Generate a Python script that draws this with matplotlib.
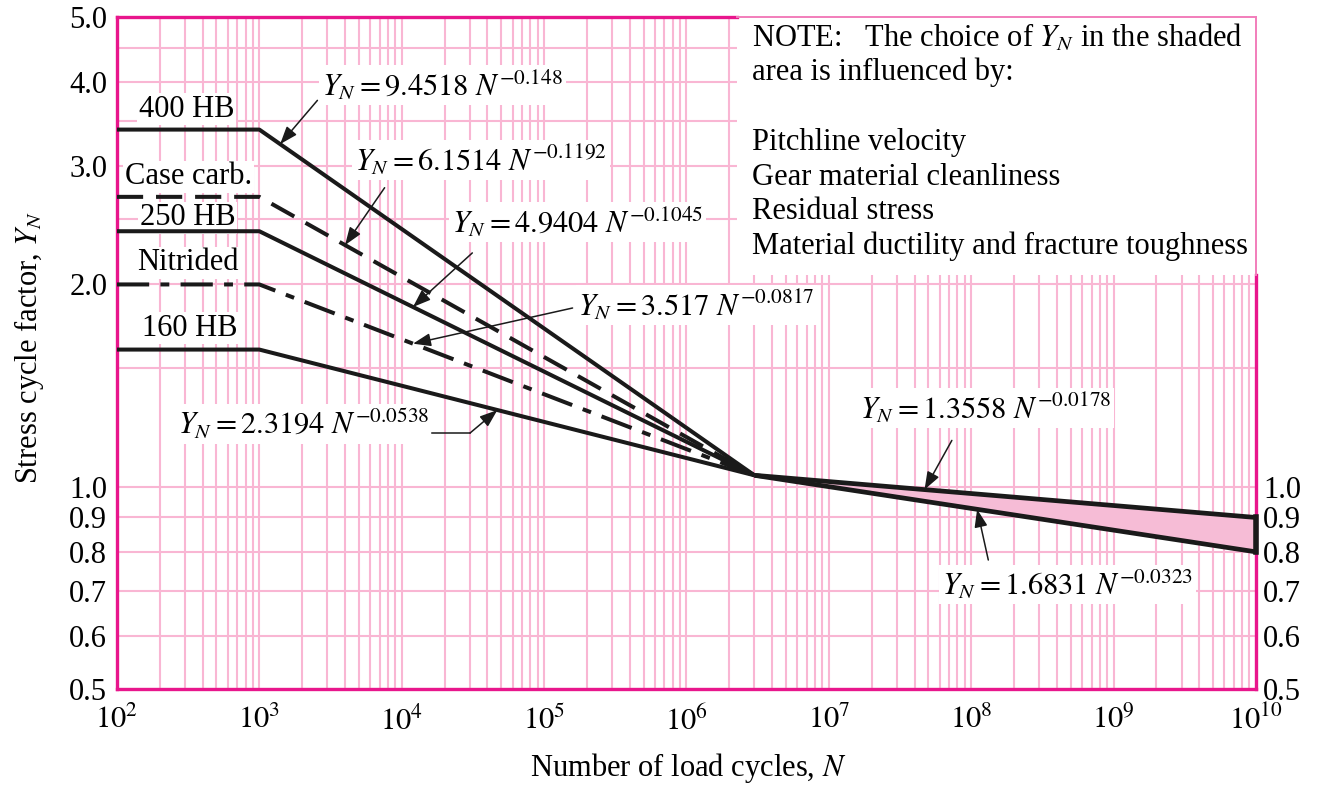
import numpy as np
import matplotlib
matplotlib.use('Agg')
import matplotlib.pyplot as plt
from matplotlib.ticker import FixedLocator, NullFormatter, FixedFormatter
from matplotlib.patches import Rectangle

plt.rcParams['font.family'] = ['Liberation Serif', 'DejaVu Serif']
plt.rcParams['mathtext.fontset'] = 'stix'

#
# values
#
materials = ['400 HB', 'Case carb.', '250 HB', 'Nitrided', '160 HB']
equations = [r'$Y_N = 9.4518\ N^{-0.148}$',
             r'$Y_N = 6.1514\ N^{-0.1192}$',
             r'$Y_N = 4.9404\ N^{-0.1045}$',
             r'$Y_N = 3.517\ N^{-0.0817}$',
             r'$Y_N = 2.3194\ N^{-0.0538}$']
N_points = [1e2, 1e3, 3e6]
Y_flat = [3.4, 2.7, 2.4, 2.0, 1.6]
Y_knee = 1.04

N_band = [3e6, 1e10]
Y_upper = [1.04, 0.90]
Y_lower = [1.04, 0.80]
band_equations = [r'$Y_N = 1.3558\ N^{-0.0178}$', r'$Y_N = 1.6831\ N^{-0.0323}$']

note_lines = [r'NOTE:   The choice of $Y_N$ in the shaded',
              'area is influenced by:',
              '',
              'Pitchline velocity',
              'Gear material cleanliness',
              'Residual stress',
              'Material ductility and fracture toughness']

x_decades = [2, 3, 4, 5, 6, 7, 8, 9, 10]
y_major = [0.5, 0.6, 0.7, 0.8, 0.9, 1.0, 2.0, 3.0, 4.0, 5.0]
y_minor = [1.5, 2.5, 3.5, 4.5]
y_right = [0.5, 0.6, 0.7, 0.8, 0.9, 1.0]

# where the arrows touch the curves (N)
N_tips = [1.4e3, 4e3, 1.2e4, 1.2e4, 4.7e4]
N_band_tips = [4.7e7, 1.1e8]

#
# styles / placement
#
magenta = '#E8168C'
lightedge = '#F27DBB'
gridpink = '#F9B6D3'
fillpink = '#F6BCD6'
ink = '#1a1a1a'
fs = 22
styles = ['-', (0, (6.5, 3.2)), '-', (0, (8, 2.8, 2.2, 2.8)), '-']
label_pos = [(0.019, 0.863), (0.007, 0.762), (0.020, 0.701), (0.018, 0.634), (0.022, 0.537)]
eq_text_pos = [(0.180, 0.899), (0.209, 0.787), (0.294, 0.695), (0.405, 0.571), (0.054, 0.394)]
eq_tail_pos = [(0.176, 0.876), (0.235, 0.746), (0.312, 0.649), (0.400, 0.567), (0.310, 0.381)]
band_text_pos = [(0.652, 0.418), (0.724, 0.155)]
band_tail_pos = [(0.733, 0.370), (0.765, 0.192)]
arrow = dict(arrowstyle='-|>,head_length=0.6,head_width=0.22', color=ink, lw=1.1,
             mutation_scale=18, shrinkA=0, shrinkB=0)

fig = plt.figure(figsize=(13.2, 7.92), dpi=100)
ax = fig.add_axes([0.0886, 0.130, 0.8629, 0.8485])
ax.set_xscale('log')
ax.set_yscale('log')
ax.set_xlim(1e2, 1e10)
ax.set_ylim(0.5, 5.0)

x_major = [10.0 ** d for d in x_decades]
x_minor = [k * 10.0 ** d for d in x_decades[:-1] for k in range(2, 10)]
ax.xaxis.set_major_locator(FixedLocator(x_major))
ax.xaxis.set_major_formatter(FixedFormatter([r'$10^{%d}$' % d for d in x_decades]))
ax.xaxis.set_minor_locator(FixedLocator(x_minor))
ax.xaxis.set_minor_formatter(NullFormatter())
ax.yaxis.set_major_locator(FixedLocator(y_major))
ax.yaxis.set_major_formatter(FixedFormatter(['%.1f' % v for v in y_major]))
ax.yaxis.set_minor_locator(FixedLocator(y_minor))
ax.yaxis.set_minor_formatter(NullFormatter())

ax.grid(True, which='both', color=gridpink, lw=1.5)
ax.set_axisbelow(True)
ax.tick_params(which='both', length=0, labelsize=fs)
ax.tick_params(axis='y', pad=7)
ax.tick_params(axis='x', pad=12)
for s in ax.spines.values():
    s.set_color(magenta)
    s.set_linewidth(2.4)
ax.spines['top'].set_visible(False)
ax.spines['right'].set_visible(False)

# top / right frame: lighter where the note box sits
box_x, box_y = 0.544, 0.616
ax.plot([0, box_x], [1, 1], transform=ax.transAxes, color=magenta, lw=2.4, clip_on=False,
        zorder=6, solid_capstyle='projecting')
ax.plot([box_x, 1], [1, 1], transform=ax.transAxes, color=lightedge, lw=1.4, clip_on=False,
        zorder=6)
ax.plot([1, 1], [0, box_y], transform=ax.transAxes, color=magenta, lw=2.4, clip_on=False,
        zorder=6, solid_capstyle='projecting')
ax.plot([1, 1], [box_y, 1], transform=ax.transAxes, color=lightedge, lw=1.4, clip_on=False,
        zorder=6)

# right hand labels
ax2 = ax.twinx()
ax2.set_yscale('log')
ax2.set_ylim(0.5, 5.0)
ax2.yaxis.set_major_locator(FixedLocator(y_right))
ax2.yaxis.set_major_formatter(FixedFormatter(['%.1f' % v for v in y_right]))
ax2.yaxis.set_minor_locator(FixedLocator([]))
ax2.yaxis.set_minor_formatter(NullFormatter())
ax2.tick_params(which='both', length=0, labelsize=fs, pad=5)
for s in ax2.spines.values():
    s.set_visible(False)

# note box
ax.add_patch(Rectangle((box_x, box_y), 1 - box_x, 1 - box_y, transform=ax.transAxes,
                       facecolor='white', edgecolor='none', zorder=1.5))
for i, line in enumerate(note_lines):
    if line:
        ax.text(0.5575, 0.969 - i * 0.0518, line, transform=ax.transAxes, fontsize=fs,
                va='center', ha='left', zorder=3)

# material curves
for i, name in enumerate(materials):
    Y = [Y_flat[i], Y_flat[i], Y_knee]
    ax.plot(N_points, Y, color=ink, lw=2.9, ls=styles[i], zorder=4,
            solid_capstyle='butt', dash_capstyle='butt')
    ax.text(label_pos[i][0], label_pos[i][1], name, transform=ax.transAxes, fontsize=fs,
            va='center', ha='left', zorder=3,
            bbox=dict(facecolor='white', edgecolor='none', pad=1))
    ax.text(eq_text_pos[i][0], eq_text_pos[i][1], equations[i], transform=ax.transAxes,
            fontsize=fs, va='center', ha='left', zorder=3,
            bbox=dict(facecolor='white', edgecolor='none', pad=2))
    ytip = 10 ** np.interp(np.log10(N_tips[i]), np.log10(N_points), np.log10(Y))
    ax.annotate('', xy=(N_tips[i], ytip), xycoords='data',
                xytext=eq_tail_pos[i], textcoords='axes fraction',
                arrowprops=arrow, zorder=5)

# leader bend for the 160 HB equation
ax.plot([0.277, 0.310], [0.381, 0.381], transform=ax.transAxes, color=ink, lw=1.1, zorder=5)

# shaded band
ax.fill_between(N_band, Y_lower, Y_upper, color=fillpink, zorder=2)
ax.plot(N_band, Y_upper, color=ink, lw=3.4, zorder=4, solid_capstyle='butt')
ax.plot(N_band, Y_lower, color=ink, lw=3.4, zorder=4, solid_capstyle='butt')
ax.plot([N_band[-1], N_band[-1]], [Y_lower[-1], Y_upper[-1]], color=ink, lw=4.0,
        zorder=7, clip_on=False, solid_capstyle='projecting')
for j, Yb in enumerate([Y_upper, Y_lower]):
    ax.text(band_text_pos[j][0], band_text_pos[j][1], band_equations[j], transform=ax.transAxes,
            fontsize=fs, va='center', ha='left', zorder=3,
            bbox=dict(facecolor='white', edgecolor='none', pad=2))
    ytip = 10 ** np.interp(np.log10(N_band_tips[j]), np.log10(N_band), np.log10(Yb))
    ax.annotate('', xy=(N_band_tips[j], ytip), xycoords='data',
                xytext=band_tail_pos[j], textcoords='axes fraction',
                arrowprops=arrow, zorder=5)

fig.text(0.521, 0.030, 'Number of load cycles, $N$', ha='center', va='center', fontsize=fs)
fig.text(0.022, 0.561, 'Stress cycle factor, $Y_N$', ha='center', va='center', fontsize=fs,
         rotation=90)

plt.savefig('out.png', dpi=100)
